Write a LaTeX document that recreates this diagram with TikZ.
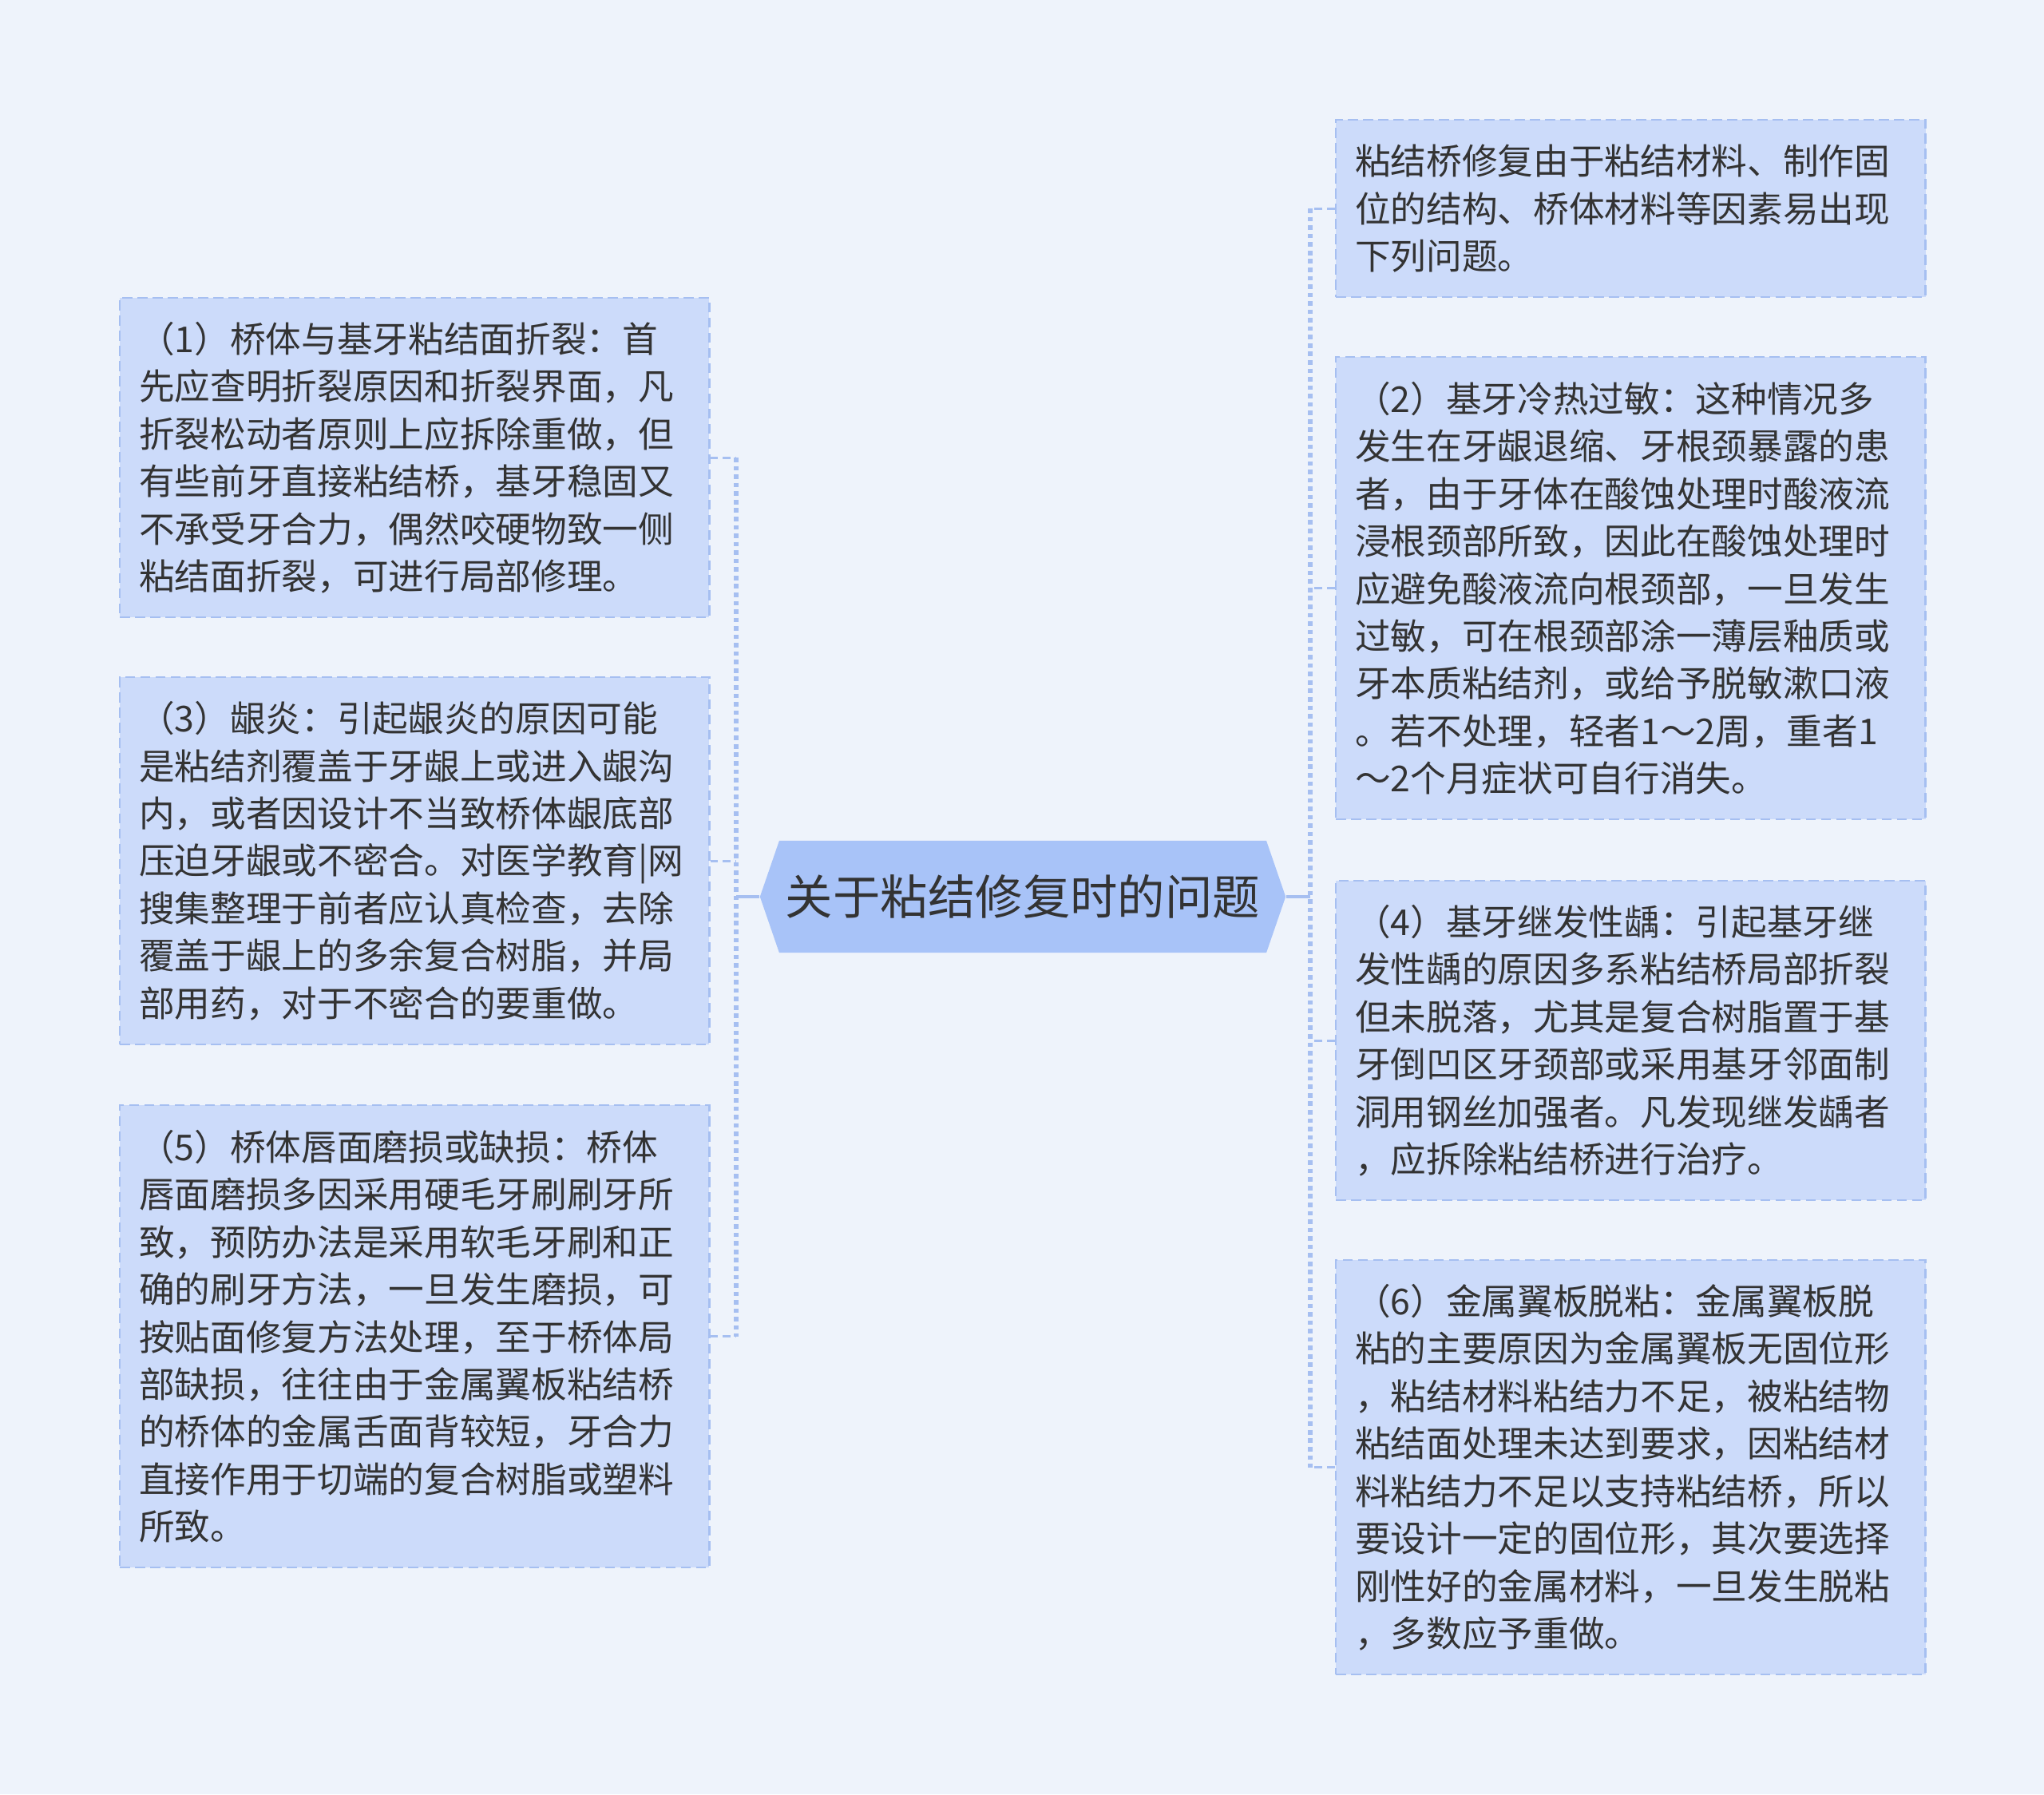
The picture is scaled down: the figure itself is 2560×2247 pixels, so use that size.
\documentclass[tikz,border=0pt]{standalone}
\usepackage{fontspec}
\setmainfont{Noto Sans CJK SC}
\usetikzlibrary{shapes.symbols}
\definecolor{bgc}{HTML}{EEF3FB}
\definecolor{boxc}{HTML}{CCDBFA}
\definecolor{edgec}{HTML}{A6BFF1}
\definecolor{rootc}{HTML}{A8C3F8}
\definecolor{txtc}{HTML}{333333}
\tikzset{bx/.style = {rectangle, fill=boxc, draw=edgec, line width=0.6pt, dash pattern=on 3.6pt off 1.8pt,
                      text width=6.9cm, inner xsep=0.24cm, inner ysep=0pt, anchor=north west, align=left,
                      text=txtc, font=\fontsize{12.7pt}{16.9pt}\selectfont},
         rt/.style = {signal, signal to=west and east, signal pointer angle=142, fill=rootc,
                      minimum height=1.4cm, minimum width=6.58cm, inner xsep=0pt,
                      text=txtc, font=\fontsize{16.9pt}{20pt}\selectfont},
         ln/.style = {draw=edgec, line width=1.1pt},
         tr/.style = {draw=edgec, line width=1.6pt, dash pattern=on 1.6pt off 1.4pt},
         br/.style = {draw=edgec, line width=0.8pt, dash pattern=on 2.8pt off 1.7pt}}
\begin{document}
\begin{tikzpicture}[x=0.01cm, y=-0.01cm]
    \fill[bgc] (0,0) rectangle (2560,2247);
    \useasboundingbox (0,0) rectangle (2560,2247);
    % centre
    \node[rt] (root) at (1281,1123) {关于粘结修复时的问题};
    \coordinate (lt) at (922,1123); \coordinate (rt) at (1641,1123);
    % right side
    \node[bx, minimum height=2.22cm] (r0) at (1672,149) {粘结桥修复由于粘结材料、制作固\\
位的结构、桥体材料等因素易出现\\
下列问题。};
    \node[bx, minimum height=5.79cm] (r2) at (1672,446) {（2）基牙冷热过敏：这种情况多\\
发生在牙龈退缩、牙根颈暴露的患\\
者，由于牙体在酸蚀处理时酸液流\\
浸根颈部所致，因此在酸蚀处理时\\
应避免酸液流向根颈部，一旦发生\\
过敏，可在根颈部涂一薄层釉质或\\
牙本质粘结剂，或给予脱敏漱口液\\
。若不处理，轻者1～2周，重者1\\
～2个月症状可自行消失。};
    \node[bx, minimum height=4.00cm] (r4) at (1672,1102) {（4）基牙继发性龋：引起基牙继\\
发性龋的原因多系粘结桥局部折裂\\
但未脱落，尤其是复合树脂置于基\\
牙倒凹区牙颈部或采用基牙邻面制\\
洞用钢丝加强者。凡发现继发龋者\\
，应拆除粘结桥进行治疗。};
    \node[bx, minimum height=5.19cm] (r6) at (1672,1577) {（6）金属翼板脱粘：金属翼板脱\\
粘的主要原因为金属翼板无固位形\\
，粘结材料粘结力不足，被粘结物\\
粘结面处理未达到要求，因粘结材\\
料粘结力不足以支持粘结桥，所以\\
要设计一定的固位形，其次要选择\\
刚性好的金属材料，一旦发生脱粘\\
，多数应予重做。};
    % left side
    \node[bx, minimum height=4.00cm] (l1) at (149,372) {（1）桥体与基牙粘结面折裂：首\\
先应查明折裂原因和折裂界面，凡\\
折裂松动者原则上应拆除重做，但\\
有些前牙直接粘结桥，基牙稳固又\\
不承受牙合力，偶然咬硬物致一侧\\
粘结面折裂，可进行局部修理。};
    \node[bx, minimum height=4.60cm] (l3) at (149,847) {（3）龈炎：引起龈炎的原因可能\\
是粘结剂覆盖于牙龈上或进入龈沟\\
内，或者因设计不当致桥体龈底部\\
压迫牙龈或不密合。对医学教育|网\\
搜集整理于前者应认真检查，去除\\
覆盖于龈上的多余复合树脂，并局\\
部用药，对于不密合的要重做。};
    \node[bx, minimum height=5.79cm] (l5) at (149,1383) {（5）桥体唇面磨损或缺损：桥体\\
唇面磨损多因采用硬毛牙刷刷牙所\\
致，预防办法是采用软毛牙刷和正\\
确的刷牙方法，一旦发生磨损，可\\
按贴面修复方法处理，至于桥体局\\
部缺损，往往由于金属翼板粘结桥\\
的桥体的金属舌面背较短，牙合力\\
直接作用于切端的复合树脂或塑料\\
所致。};
    % connectors
    \draw[ln] (root.west) -- (lt);
    \draw[ln] (root.east) -- (rt);
    \draw[tr] (lt |- l1.east) -- (lt |- l5.east);
    \draw[tr] (rt |- r0.west) -- (rt |- r6.west);
    \draw[br] (l1.east) -- (lt |- l1.east);
    \draw[br] (l3.east) -- (lt |- l3.east);
    \draw[br] (l5.east) -- (lt |- l5.east);
    \draw[br] (r0.west) -- (rt |- r0.west);
    \draw[br] (r2.west) -- (rt |- r2.west);
    \draw[br] (r4.west) -- (rt |- r4.west);
    \draw[br] (r6.west) -- (rt |- r6.west);
\end{tikzpicture}
\end{document}
